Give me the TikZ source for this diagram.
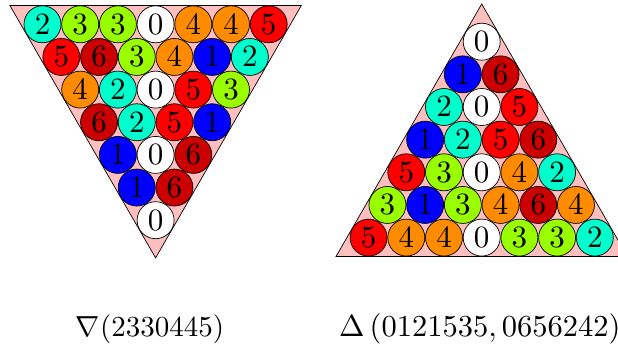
\documentclass[tikz,border=0pt]{standalone}
\definecolor{c0}{rgb}{1,1,1}
\definecolor{c1}{rgb}{0,0,1}
\definecolor{c2}{rgb}{0,1,0.8}
\definecolor{c3}{rgb}{0.6,1,0}
\definecolor{c4}{rgb}{1,0.55,0}
\definecolor{c5}{rgb}{1,0,0}
\definecolor{c6}{rgb}{0.8,0,0}
\definecolor{tripink}{rgb}{1,0.75,0.75}
\newcommand{\bigtxt}[2][2.9]{\scalebox{#1}{#2}}
\tikzset{
  ball/.style={circle, draw=black, line width=0.7pt, minimum size=37pt, inner sep=0pt},
  tri/.style={fill=tripink, draw=black, line width=0.7pt, line join=miter},
  lbl/.style={inner sep=0pt}
}
\begin{document}
\begin{tikzpicture}[x=1pt,y=-1pt]
\useasboundingbox (0,0) rectangle (618,347);
\clip (0,0) rectangle (618,347);
% left inverted triangle
\coordinate (LA) at (9.85,5.45);
\coordinate (LB) at (301.35,5.45);
\coordinate (LC) at (155.6,257.9);
\draw[tri] (LA) -- (LB) -- (LC) -- cycle;
\foreach \row [count=\k from 0] in {{2,3,3,0,4,4,5},{5,6,3,4,1,2},{4,2,0,5,3},{6,2,5,1},{1,0,6},{1,6},{0}} {
  \foreach \v [count=\j from 0] in \row {
    \node[ball, fill=c\v] (L\k\j) at ({42.5+\k*18.85+\j*37.7},{24.3+\k*32.65}) {\bigtxt[3.1]{$\v$}};
  }
}
% right triangle
\coordinate (RA) at (481.7,4);
\coordinate (RB) at (336,256.5);
\coordinate (RC) at (627.5,256.5);
\draw[tri] (RA) -- (RB) -- (RC) -- cycle;
\foreach \row [count=\k from 0] in {{0},{1,6},{2,0,5},{1,2,5,6},{5,3,0,4,2},{3,1,3,4,6,4},{5,4,4,0,3,3,2}} {
  \foreach \v [count=\j from 0] in \row {
    \node[ball, fill=c\v] (R\k\j) at ({481.7-\k*18.85+\j*37.7},{41.7+\k*32.65}) {\bigtxt[3.1]{$\v$}};
  }
}
% labels
\node[lbl, anchor=base] (LL) at (150,336) {\bigtxt{$\nabla(2330445)$}};
\node[lbl, anchor=base west] (RL) at (339,336) {\bigtxt[3.05]{$\Delta\left(0121535, 0656242\right)$}};
\end{tikzpicture}
\end{document}
